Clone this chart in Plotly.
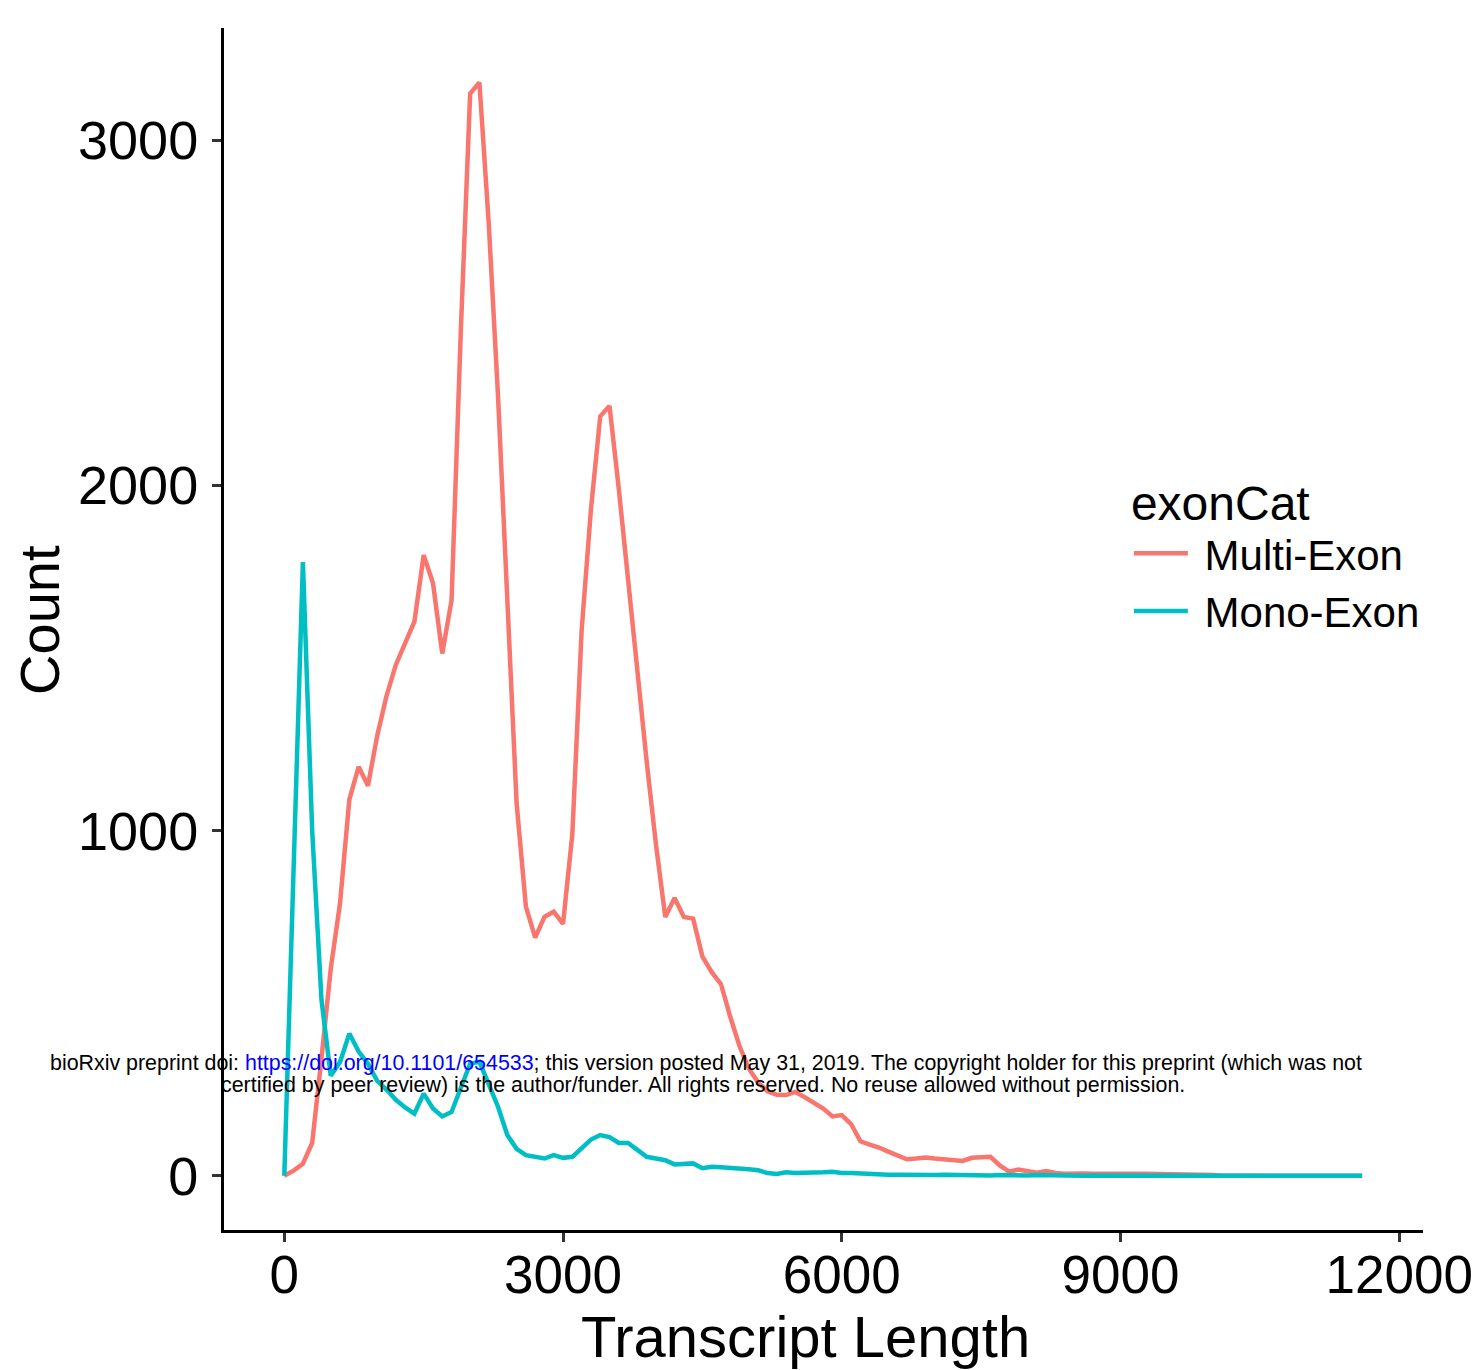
import plotly.graph_objects as go

# ---- data ----
x_len = list(range(0, 11700, 100))

multi_exon = [
    0, 15, 35, 95, 340, 600, 790, 1090, 1185, 1130,
    1275, 1390, 1480, 1545, 1605, 1798, 1717, 1513, 1667, 2450,
    3135, 3167, 2760, 2260, 1700, 1080, 780, 690, 750, 765,
    730, 990, 1580, 1930, 2200, 2230, 1990, 1720, 1460, 1200,
    960, 750, 805, 750, 745, 635, 590, 555, 460, 375,
    310, 270, 245, 235, 234, 243, 228, 212, 195, 172,
    176, 150, 100, 90, 82, 70, 60, 48, 50, 53,
    50, 48, 45, 43, 52, 55, 55, 30, 12, 18,
    15, 9, 14, 8, 6, 8, 7, 6, 6, 8,
    9, 7, 7, 6, 5, 5, 5, 4, 5, 3,
    2, 0, 0, 0, 0, 0, 0, 0, 0, 0,
    0, 0, 0, 0, 0, 0, 0,
]

mono_exon = [
    0, 880, 1778, 1000, 510, 290, 330, 412, 360, 325,
    275, 250, 220, 198, 180, 238, 195, 172, 185, 255,
    325, 330, 262, 200, 118, 78, 60, 55, 50, 60,
    52, 55, 82, 105, 118, 112, 95, 95, 75, 55,
    50, 45, 33, 35, 36, 22, 26, 25, 24, 21,
    19, 16, 8, 5, 10, 8, 8, 10, 10, 12,
    8, 8, 6, 5, 2, 3, 3, 2, 3, 2,
    2, 3, 2, 2, 1, 2, 1, 2, 1, 1,
    1, 2, 1, 1, 1, 1, 0, 1, 1, 0,
    1, 0, 1, 0, 0, 1, 0, 0, 1, 0,
    0, 0, 1, 0, 0, 0, 0, 0, 0, 0,
    0, 0, 0, 0, 0, 0, 0,
]

series_names = ["Multi-Exon", "Mono-Exon"]
series_colors = ["#F8766D", "#00BFC4"]

x_ticks = [0, 3000, 6000, 9000, 12000]
y_ticks = [0, 1000, 2000, 3000]

FONT = "Liberation Sans, Arial, sans-serif"
NBSP = "\u00a0"

fig = go.Figure()
for name, vals, col in zip(series_names, [multi_exon, mono_exon], series_colors):
    fig.add_trace(go.Scatter(
        x=x_len, y=vals, mode="lines", name=NBSP + name,
        line=dict(color=col, width=4.5),
    ))

fig.update_layout(
    width=1472, height=1370,
    margin=dict(l=224, r=49, t=28, b=140, autoexpand=False),
    paper_bgcolor="white", plot_bgcolor="white",
    font=dict(family=FONT, color="black"),
    showlegend=True,
    legend=dict(
        title=dict(text="exonCat", font=dict(size=48, family=FONT, color="black")),
        font=dict(size=42, family=FONT, color="black"),
        x=0.7547, y=0.643, xanchor="left", yanchor="top",
        bgcolor="rgba(0,0,0,0)", itemwidth=54,
        tracegroupgap=0,
    ),
    xaxis=dict(
        range=[-649, 12255], tickvals=x_ticks, ticktext=[str(v) for v in x_ticks],
        showgrid=False, zeroline=False, automargin=False,
        showline=True, linecolor="black", linewidth=3,
        ticks="outside", ticklen=9, tickwidth=3, tickcolor="#333333",
        ticklabelstandoff=-13, ticklabeloverflow="allow",
        tickfont=dict(size=53, family=FONT, color="black"),
    ),
    yaxis=dict(
        range=[-157, 3325], tickvals=y_ticks, ticktext=[str(v) for v in y_ticks],
        showgrid=False, zeroline=False, automargin=False,
        showline=True, linecolor="black", linewidth=3,
        ticks="outside", ticklen=9, tickwidth=3, tickcolor="#333333",
        ticklabelstandoff=3, ticklabeloverflow="allow",
        tickfont=dict(size=54, family=FONT, color="black"),
    ),
)

# axis titles
fig.add_annotation(text="Transcript Length", xref="paper", yref="paper",
                   x=0.4846, y=-0.089, xanchor="center", yanchor="middle",
                   showarrow=False, font=dict(size=58, family=FONT, color="black"))
fig.add_annotation(text="Count", xref="paper", yref="paper",
                   x=-0.1535, y=0.5075, xanchor="center", yanchor="middle",
                   textangle=-90, showarrow=False,
                   font=dict(size=56, family=FONT, color="black"))

# bioRxiv watermark
fig.add_annotation(
    text=("bioRxiv preprint doi: <span style='color:#0000ff'>https://doi.org/10.1101/654533</span>; "
          "this version posted May 31, 2019. The copyright holder for this preprint (which was not"),
    xref="paper", yref="paper", x=-0.1468, y=0.1389, xanchor="left", yanchor="middle",
    showarrow=False, font=dict(size=21.4, family=FONT, color="black"))
fig.add_annotation(
    text="certified by peer review) is the author/funder. All rights reserved. No reuse allowed without permission.",
    xref="paper", yref="paper", x=-0.00417, y=0.1207, xanchor="left", yanchor="middle",
    showarrow=False, font=dict(size=21.4, family=FONT, color="black"))

fig.write_html("out.html")
